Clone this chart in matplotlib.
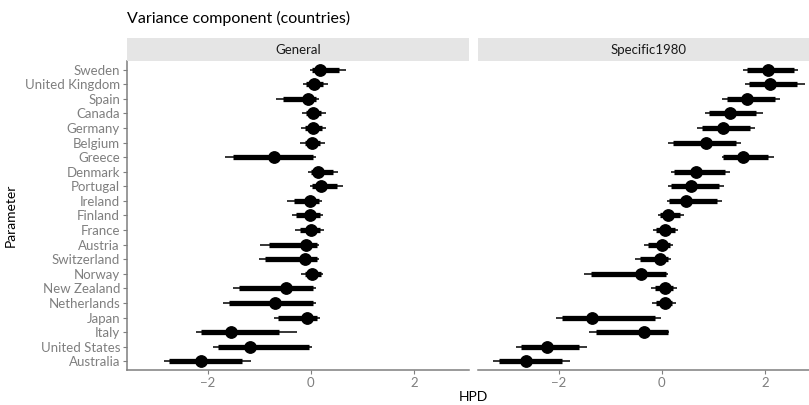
import numpy as np
import matplotlib.pyplot as plt

plt.rcParams['font.family'] = ['Lato', 'DejaVu Sans']

countries = ['Sweden', 'United Kingdom', 'Spain', 'Canada', 'Germany', 'Belgium',
             'Greece', 'Denmark', 'Portugal', 'Ireland', 'Finland', 'France',
             'Austria', 'Switzerland', 'Norway', 'New Zealand', 'Netherlands',
             'Japan', 'Italy', 'United States', 'Australia']
panels = ['General', 'Specific1980']
x_ticks = [-2, 0, 2]

# General: point estimate, 66% and 95% intervals
gen_mid = [0.17, 0.06, -0.06, 0.04, 0.04, 0.03, -0.71, 0.14, 0.19, -0.02, -0.01,
           0.00, -0.09, -0.11, 0.02, -0.48, -0.69, -0.07, -1.56, -1.18, -2.14]
gen_lo66 = [0.03, -0.10, -0.54, -0.10, -0.11, -0.12, -1.52, 0.00, 0.02, -0.33, -0.28,
            -0.22, -0.81, -0.90, -0.12, -1.40, -1.58, -0.63, -2.13, -1.80, -2.75]
gen_hi66 = [0.55, 0.24, 0.10, 0.20, 0.22, 0.18, 0.05, 0.42, 0.50, 0.15, 0.17,
            0.18, 0.11, 0.11, 0.20, 0.05, 0.05, 0.12, -0.61, -0.03, -1.34]
gen_lo95 = [-0.02, -0.15, -0.68, -0.18, -0.20, -0.21, -1.66, -0.05, -0.02, -0.46, -0.36,
            -0.30, -0.98, -1.00, -0.20, -1.51, -1.70, -0.72, -2.23, -1.90, -2.86]
gen_hi95 = [0.68, 0.33, 0.16, 0.29, 0.30, 0.27, 0.10, 0.52, 0.63, 0.21, 0.23,
            0.25, 0.16, 0.16, 0.24, 0.10, 0.10, 0.18, -0.26, 0.03, -1.17]

# Specific1980
spec_mid = [2.07, 2.10, 1.65, 1.33, 1.19, 0.86, 1.58, 0.66, 0.57, 0.47, 0.11,
            0.07, 0.01, -0.03, -0.40, 0.06, 0.06, -1.35, -0.35, -2.24, -2.63]
spec_lo66 = [1.65, 1.70, 1.27, 0.92, 0.78, 0.22, 1.19, 0.23, 0.17, 0.14, -0.04,
             -0.12, -0.27, -0.43, -1.37, -0.14, -0.12, -1.93, -1.27, -2.73, -3.17]
spec_hi66 = [2.56, 2.63, 2.20, 1.82, 1.72, 1.43, 2.07, 1.23, 1.11, 1.07, 0.35,
             0.25, 0.16, 0.12, 0.08, 0.22, 0.20, -0.14, 0.11, -1.60, -1.93]
spec_lo95 = [1.58, 1.62, 1.17, 0.84, 0.69, 0.12, 1.17, 0.17, 0.12, 0.10, -0.07,
             -0.17, -0.35, -0.52, -1.52, -0.21, -0.19, -2.05, -1.42, -2.83, -3.27]
spec_hi95 = [2.65, 2.77, 2.30, 1.97, 1.80, 1.53, 2.18, 1.33, 1.21, 1.17, 0.43,
             0.31, 0.22, 0.17, 0.12, 0.29, 0.28, -0.02, 0.14, -1.46, -1.79]

W, H = 809, 405
GREY = '#7f7f7f'


def draw_panel(ax, mid, lo66, hi66, lo95, hi95, show_y):
    y = np.arange(len(countries))
    ax.hlines(y, lo95, hi95, color='black', lw=1.1)
    ax.hlines(y, lo66, hi66, color='black', lw=3.8)
    ax.plot(mid, y, 'o', color='black', ms=8.2)
    ax.set_xlim(-3.57, 3.07)
    ax.set_ylim(len(countries) - 0.4, -0.6)
    ax.set_xticks(x_ticks)
    ax.set_xticklabels([str(t).replace('-', '\u2212') for t in x_ticks])
    for s in ['top', 'right']:
        ax.spines[s].set_visible(False)
    ax.spines['bottom'].set_color(GREY)
    ax.spines['left'].set_color(GREY)
    ax.spines['bottom'].set_linewidth(1.1)
    ax.spines['left'].set_linewidth(1.1)
    ax.tick_params(colors=GREY, labelcolor=GREY, labelsize=9.5, length=3, width=0.8, pad=2)
    if show_y:
        ax.set_yticks(np.arange(len(countries)))
        ax.set_yticklabels(countries)
    else:
        ax.spines['left'].set_visible(False)
        ax.set_yticks([])


fig = plt.figure(figsize=(W / 100, H / 100), dpi=100)

top, bottom = 61, 370
lefts = [127, 478]
pw = 342
data = [(gen_mid, gen_lo66, gen_hi66, gen_lo95, gen_hi95),
        (spec_mid, spec_lo66, spec_hi66, spec_lo95, spec_hi95)]

for i, (lx, name) in enumerate(zip(lefts, panels)):
    ax = fig.add_axes([lx / W, 1 - bottom / H, pw / W, (bottom - top) / H])
    draw_panel(ax, *data[i], show_y=(i == 0))
    strip = fig.add_axes([lx / W, 1 - top / H, pw / W, 23 / H])
    strip.set_facecolor('#e5e5e5')
    strip.set_xticks([])
    strip.set_yticks([])
    for s in strip.spines.values():
        s.set_visible(False)
    strip.text(0.5, 0.5, name, ha='center', va='center', fontsize=9.5, color='#1a1a1a',
               transform=strip.transAxes)

fig.text(127 / W, 1 - 18 / H, 'Variance component (countries)', fontsize=11.5,
         ha='left', va='center', color='black')
fig.text(473 / W, 1 - 397 / H, 'HPD', fontsize=10, ha='center', va='center')
fig.text(11 / W, 1 - 215 / H, 'Parameter', fontsize=10, ha='center', va='center',
         rotation=90)

fig.savefig('out.png', dpi=100)
